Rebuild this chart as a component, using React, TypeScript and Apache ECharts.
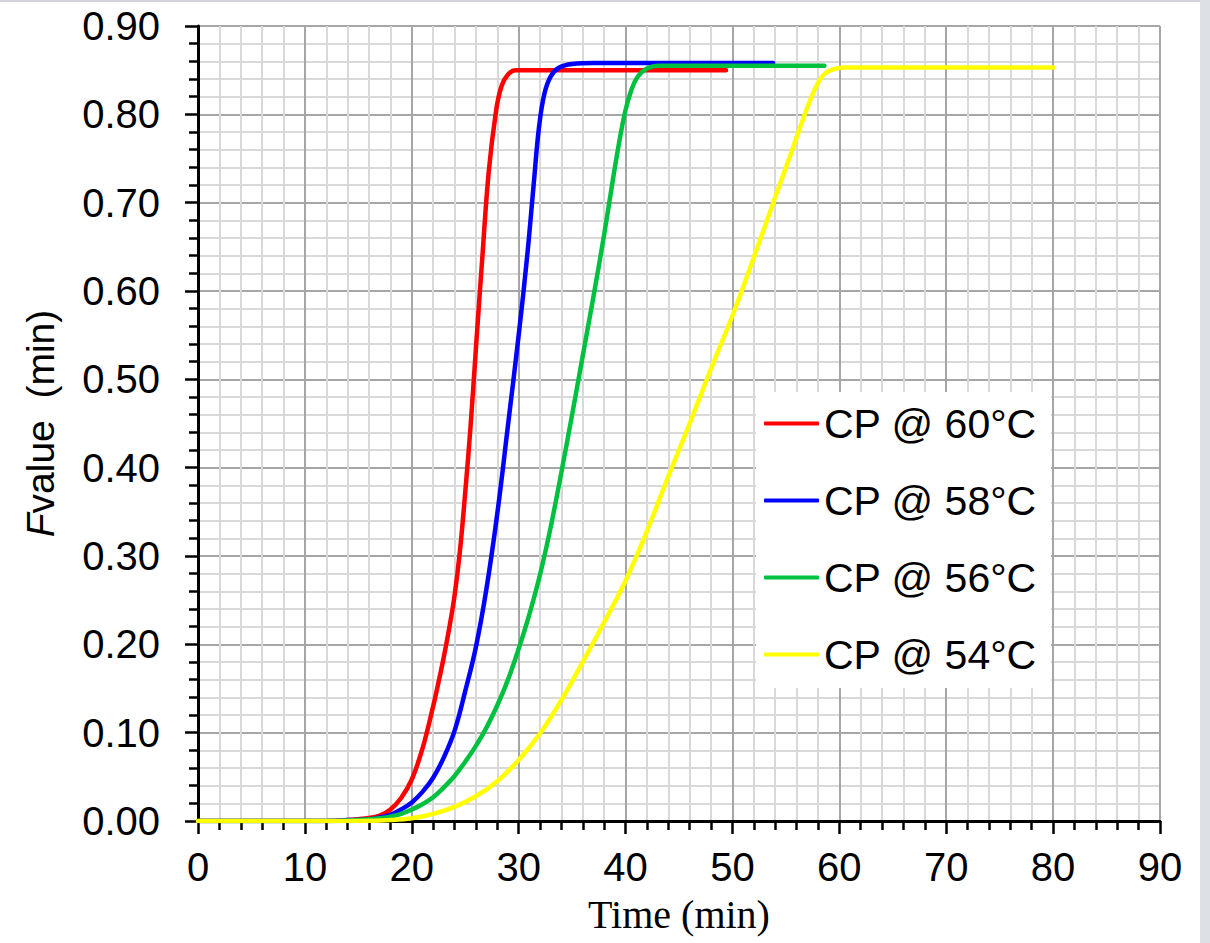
import React, { useEffect, useRef } from "react";
import * as echarts from "echarts";

// F-value curves (time in min, F-value in min) for each process temperature
const cp60: [number, number][] = [
  [0, 0], [12, 0], [14, 0.001], [15, 0.002], [16, 0.0035], [17, 0.006],
  [18, 0.013], [19, 0.026], [20, 0.047], [21, 0.082], [22, 0.13], [22.5, 0.157],
  [23, 0.186], [23.5, 0.218], [24, 0.255], [24.5, 0.305], [25, 0.372],
  [25.5, 0.447], [26, 0.535], [26.6, 0.638], [27.2, 0.735], [27.9, 0.805],
  [28.4, 0.832], [29.0, 0.845], [29.7, 0.85], [31, 0.85], [49.4, 0.85],
];

const cp58: [number, number][] = [
  [0, 0], [12, 0], [14, 0.001], [16, 0.002], [17, 0.004], [18, 0.007],
  [19, 0.013], [20, 0.021], [21, 0.033], [22, 0.049], [23, 0.072], [24, 0.102],
  [25, 0.147], [26, 0.197], [27, 0.264], [28, 0.348], [29, 0.448], [30, 0.55],
  [30.8, 0.64], [31.4, 0.72], [31.9, 0.785], [32.4, 0.823], [33.0, 0.843],
  [33.8, 0.853], [35, 0.857], [37, 0.858], [53.8, 0.858],
];

const cp56: [number, number][] = [
  [0, 0], [13, 0], [15, 0.001], [17, 0.003], [18, 0.005], [19, 0.008],
  [20, 0.013], [21, 0.019], [22, 0.027], [23, 0.038], [24, 0.051], [25, 0.067],
  [26, 0.085], [27, 0.106], [28, 0.131], [29, 0.16], [30, 0.195], [31, 0.234],
  [32, 0.279], [33, 0.333], [34, 0.395], [35, 0.46], [36, 0.527], [37, 0.594],
  [38, 0.664], [38.8, 0.725], [39.5, 0.775], [40.0, 0.805], [40.5, 0.826],
  [41.1, 0.842], [42, 0.852], [43.2, 0.855], [58.6, 0.855],
];

const cp54: [number, number][] = [
  [0, 0], [15, 0], [18, 0.001], [20, 0.003], [22, 0.008], [24, 0.016],
  [26, 0.028], [28, 0.045], [30, 0.069], [32, 0.099], [34, 0.137], [36, 0.18],
  [38, 0.225], [40, 0.272], [42, 0.328], [44, 0.39], [46, 0.45], [48, 0.512],
  [50, 0.572], [52, 0.638], [54, 0.706], [55.6, 0.76], [56.8, 0.801],
  [57.7, 0.828], [58.4, 0.843], [59.2, 0.85], [60.5, 0.853], [80, 0.853],
];

const seriesNames = ["CP @ 60°C", "CP @ 58°C", "CP @ 56°C", "CP @ 54°C"];
const seriesColors = ["#ff0000", "#0000ff", "#00c040", "#ffff00"];
const seriesData = [cp60, cp58, cp56, cp54];

const xAxisTitle = "Time (min)";
const yAxisTitle = "{i|F}value  (min)";

const SANS = "'Liberation Sans', Arial, sans-serif";
const SERIF = "'Liberation Serif', 'Times New Roman', serif";

export default function App() {
  const ref = useRef<HTMLDivElement>(null);

  useEffect(() => {
    if (!ref.current) return;
    const chart = echarts.init(ref.current, undefined, { renderer: "svg" });

    const tickLine = { show: true, inside: false, length: 13, lineStyle: { color: "#000", width: 2.5 } };
    const minorTick = { show: true, splitNumber: 5, length: 9, lineStyle: { color: "#000", width: 2.5 } };
    const majorGrid = { show: true, lineStyle: { color: "#a6a6a6", width: 2 } };
    const minorGrid = { show: true, lineStyle: { color: "#d9d9d9", width: 2 } };

    chart.setOption({
      animation: false,
      backgroundColor: "#ffffff",
      grid: {
        left: 198,
        top: 26,
        width: 962,
        height: 795,
        containLabel: false,
        outerBoundsMode: "none",
      },
      graphic: [
        { type: "rect", shape: { x: 0, y: 0, width: 1200, height: 2 }, style: { fill: "#d3d3da" }, silent: true },
        { type: "rect", shape: { x: 1200, y: 0, width: 10, height: 943 }, style: { fill: "#dde0e4" }, silent: true },
      ],
      legend: {
        orient: "vertical",
        left: 756,
        top: 392,
        padding: [11, 14, 13, 8],
        backgroundColor: "#ffffff",
        icon: "roundRect",
        itemWidth: 55,
        itemHeight: 4,
        itemGap: 36,
        textStyle: { fontSize: 41, fontFamily: SANS, color: "#000", lineHeight: 40 },
        data: seriesNames,
        z: 10,
      },
      xAxis: {
        type: "value",
        min: 0,
        max: 90,
        interval: 10,
        name: xAxisTitle,
        nameLocation: "middle",
        nameGap: 73,
        nameTextStyle: { fontSize: 40, fontFamily: SERIF, color: "#000" },
        axisLine: { show: true, onZero: false, lineStyle: { color: "#000", width: 3 } },
        axisTick: tickLine,
        minorTick,
        splitLine: majorGrid,
        minorSplitLine: minorGrid,
        axisLabel: { fontSize: 40, fontFamily: SANS, color: "#000", margin: 26 },
      },
      yAxis: {
        type: "value",
        min: 0,
        max: 0.9,
        interval: 0.1,
        name: yAxisTitle,
        nameLocation: "middle",
        nameGap: 138,
        nameTextStyle: {
          fontSize: 39,
          fontFamily: SANS,
          color: "#000",
          rich: { i: { fontSize: 39, fontFamily: SANS, fontStyle: "italic", color: "#000" } },
        },
        axisLine: { show: true, onZero: false, lineStyle: { color: "#000", width: 3 } },
        axisTick: tickLine,
        minorTick,
        splitLine: majorGrid,
        minorSplitLine: minorGrid,
        axisLabel: {
          fontSize: 40,
          fontFamily: SANS,
          color: "#000",
          margin: 38,
          formatter: (v: number) => v.toFixed(2),
        },
      },
      series: seriesData.map((d, i) => ({
        name: seriesNames[i],
        type: "line",
        data: d,
        smooth: 0.4,
        symbol: "none",
        showSymbol: false,
        color: seriesColors[i],
        lineStyle: { color: seriesColors[i], width: 4.5, cap: "round", join: "round" },
        z: 3 + i,
      })),
    });

    return () => chart.dispose();
  }, []);

  return (
    <div
      ref={ref}
      style={{ position: "fixed", left: 0, top: 0, width: 1210, height: 943, background: "#fff" }}
    />
  );
}
